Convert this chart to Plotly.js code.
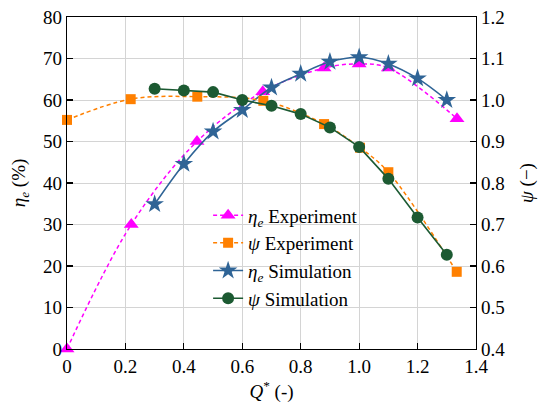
<!DOCTYPE html>
<html>
<head>
<meta charset="utf-8">
<script src="https://cdn.plot.ly/plotly-3.0.1.min.js"></script>
<style>
html,body{margin:0;padding:0;background:#fff;}
#chart{width:550px;height:416px;}
</style>
</head>
<body>
<div id="chart"></div>
<script>
// Experiment: efficiency
const qEtaExp = [0, 0.22, 0.445, 0.67, 0.88, 1.0, 1.1, 1.335];
const etaExp = [0, 30, 50, 62, 67.7, 68.7, 67.7, 55.5];
// Experiment: head coefficient
const qPsiExp = [0, 0.218, 0.446, 0.672, 0.88, 1.003, 1.10, 1.334];
const psiExp = [0.952, 1.002, 1.008, 0.998, 0.942, 0.885, 0.826, 0.586];
// Simulation
const qSim = [0.3, 0.4, 0.5, 0.6, 0.7, 0.8, 0.9, 1.0, 1.1, 1.2, 1.3];
const etaSim = [34.9, 44.6, 52.4, 57.6, 63.0, 66.3, 69.2, 70.3, 68.7, 65.2, 60.0];
const psiSim = [1.027, 1.023, 1.019, 1.0, 0.986, 0.966, 0.934, 0.887, 0.810, 0.717, 0.627];
// Tick labels
const xTickVals = [0, 0.2, 0.4, 0.6, 0.8, 1.0, 1.2, 1.4];
const xTickText = ['0', '0.2', '0.4', '0.6', '0.8', '1.0', '1.2', '1.4'];
const y2TickVals = [0.4, 0.5, 0.6, 0.7, 0.8, 0.9, 1.0, 1.1, 1.2];
const y2TickText = ['0.4', '0.5', '0.6', '0.7', '0.8', '0.9', '1.0', '1.1', '1.2'];

const FONT = '"Liberation Serif", "Times New Roman", serif';
const cMag = '#ff00ff', cOra = '#ff8000', cBlue = '#2f6496', cGreen = '#1c5a32';

const traces = [
  {x: qEtaExp, y: etaExp, name: '<i>η<sub>e</sub></i> Experiment', mode: 'lines+markers', cliponaxis: false,
   line: {color: cMag, width: 1.5, dash: '4px,3px', shape: 'spline'},
   marker: {symbol: 'triangle-up', size: 13, color: cMag}},
  {x: qPsiExp, y: psiExp, name: '<i>ψ</i> Experiment', yaxis: 'y2', mode: 'lines+markers', cliponaxis: false,
   line: {color: cOra, width: 1.5, dash: '4px,3px', shape: 'spline'},
   marker: {symbol: 'square', size: 10, color: cOra}},
  {x: qSim, y: etaSim, name: '<i>η<sub>e</sub></i> Simulation', mode: 'lines+markers', cliponaxis: false,
   line: {color: cBlue, width: 1.6, shape: 'spline'},
   marker: {symbol: 'star', size: 14, color: cBlue}},
  {x: qSim, y: psiSim, name: '<i>ψ</i> Simulation', yaxis: 'y2', mode: 'lines+markers', cliponaxis: false,
   line: {color: cGreen, width: 1.6},
   marker: {symbol: 'circle', size: 12, color: cGreen}}
];

const layout = {
  width: 550, height: 416,
  margin: {l: 67, r: 74, t: 17, b: 67},
  paper_bgcolor: '#fff', plot_bgcolor: '#fff',
  font: {family: FONT, size: 19, color: '#000'},
  showlegend: true,
  legend: {x: 0.345, y: 0.46, xanchor: 'left', yanchor: 'top', bgcolor: 'rgba(0,0,0,0)',
           font: {family: FONT, size: 19, color: '#000'}, tracegroupgap: 0},
  xaxis: {range: [0, 1.4], tickvals: xTickVals, ticktext: xTickText,
          ticks: 'inside', ticklen: 6, tickcolor: '#000', tickwidth: 1.2,
          showline: true, linecolor: '#000', linewidth: 1.3, mirror: true,
          showgrid: true, gridcolor: '#d4d4d4', gridwidth: 1, zeroline: false,
          tickfont: {family: FONT, size: 19},
          title: {text: '<i>Q</i><sup>*</sup> (-)', font: {family: FONT, size: 19}, standoff: 8}},
  yaxis: {range: [0, 80], dtick: 10, tick0: 0,
          ticks: 'inside', ticklen: 6, tickcolor: '#000', tickwidth: 1.2,
          showline: true, linecolor: '#000', linewidth: 1.3, mirror: true,
          showgrid: true, gridcolor: '#d4d4d4', gridwidth: 1, zeroline: false,
          tickfont: {family: FONT, size: 19},
          title: {text: '<i>η<sub>e</sub></i> (%)', font: {family: FONT, size: 19}, standoff: 12}},
  yaxis2: {range: [0.4, 1.2], overlaying: 'y', side: 'right', tickvals: y2TickVals, ticktext: y2TickText,
           ticks: 'inside', ticklen: 6, tickcolor: '#000', tickwidth: 1.2,
           showline: true, linecolor: '#000', linewidth: 1.3,
           showgrid: false, zeroline: false,
           tickfont: {family: FONT, size: 19},
           title: {text: '<i>ψ</i> (−)', font: {family: FONT, size: 19}, standoff: 15}}
};

Plotly.newPlot('chart', traces, layout, {displayModeBar: false, staticPlot: true});
</script>
</body>
</html>
